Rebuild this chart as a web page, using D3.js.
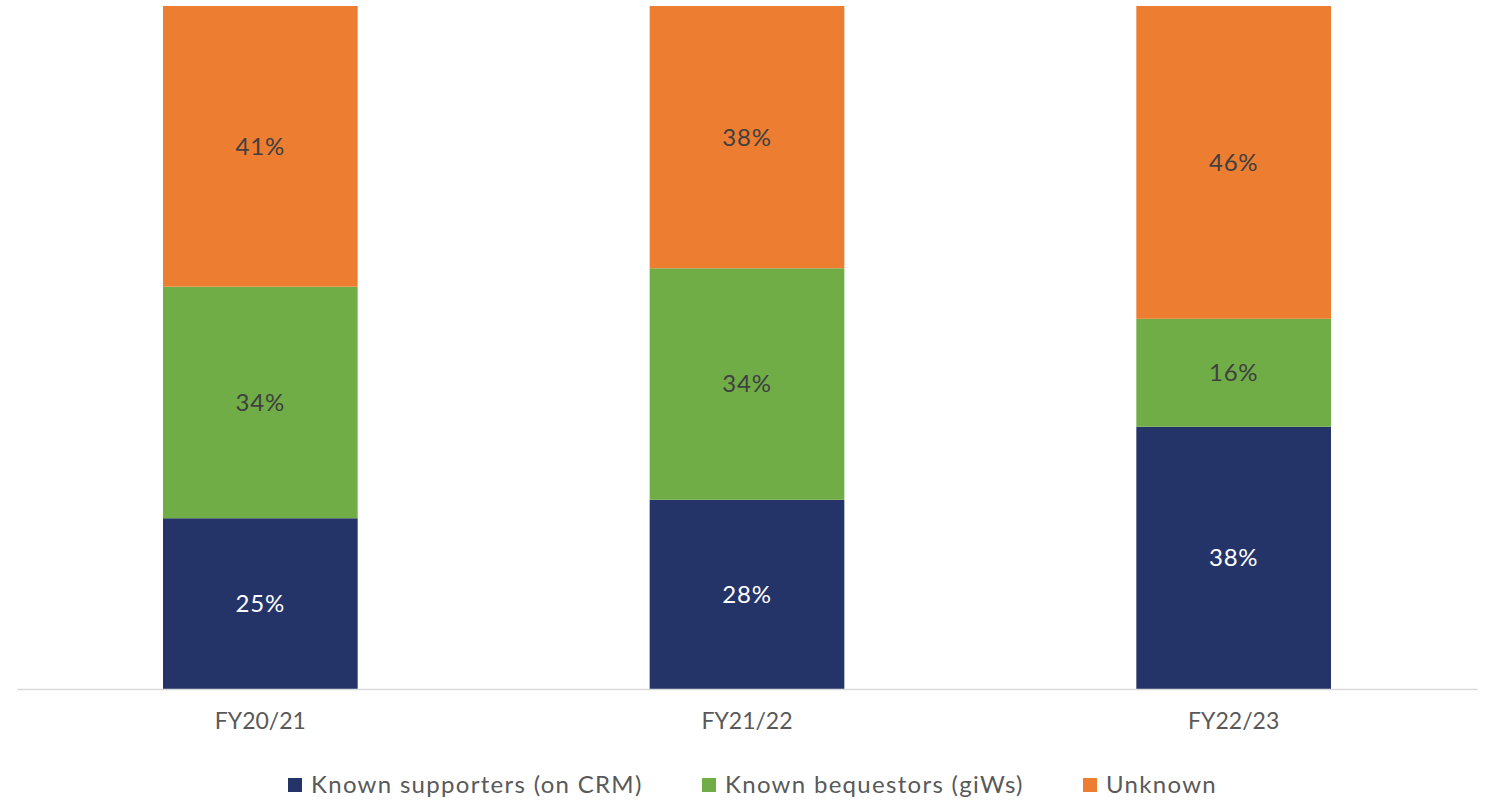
<!DOCTYPE html>
<html>
<head>
<meta charset="utf-8">
<script src="https://cdn.jsdelivr.net/npm/d3@7"></script>
<style>
  body { margin: 0; background: #fff; }
  text { font-family: Lato, "Open Sans", sans-serif; }
</style>
</head>
<body>
<svg id="chart" width="1486" height="801"></svg>
<script>
// data (shares in %, labels shown rounded)
const years = ["FY20/21", "FY21/22", "FY22/23"]
const seriesNames = ["Known supporters (on CRM)", "Known bequestors (giWs)", "Unknown"]
const supporters = [25.0, 27.7, 38.4]
const bequestors = [33.9, 33.9, 15.8]
const unknown = [41.1, 38.4, 45.8]

const colors = ["#243469", "#70AD47", "#ED7D31"]
const labelColors = ["#ffffff", "#404040", "#404040"]

const dimensions = {
  width: 1486,
  height: 801,
  margin: { top: 6, right: 9, bottom: 112, left: 17 },
}
dimensions.boundedWidth = dimensions.width - dimensions.margin.left - dimensions.margin.right
dimensions.boundedHeight = dimensions.height - dimensions.margin.top - dimensions.margin.bottom

const rows = years.map((y, i) => ({ year: y, s0: supporters[i], s1: bequestors[i], s2: unknown[i] }))
const keys = ["s0", "s1", "s2"]
const stacked = d3.stack().keys(keys)(rows)

const svg = d3.select("#chart")
const g = svg.append("g")
  .attr("transform", "translate(" + dimensions.margin.left + "," + dimensions.margin.top + ")")

const x = d3.scaleBand()
  .domain(years)
  .range([0, dimensions.boundedWidth])
  .paddingInner(0.6)
  .paddingOuter(0.3)

const y = d3.scaleLinear()
  .domain([0, 100])
  .range([dimensions.boundedHeight, 0])

// bars
stacked.forEach((layer, li) => {
  g.selectAll(".bar" + li)
    .data(layer)
    .enter().append("rect")
      .attr("x", d => x(d.data.year))
      .attr("y", d => y(d[1]))
      .attr("width", x.bandwidth())
      .attr("height", d => y(d[0]) - y(d[1]))
      .attr("fill", colors[li])

  g.selectAll(".lab" + li)
    .data(layer)
    .enter().append("text")
      .attr("x", d => x(d.data.year) + x.bandwidth() / 2)
      .attr("y", d => (y(d[0]) + y(d[1])) / 2)
      .attr("dy", "0.35em")
      .attr("text-anchor", "middle")
      .attr("font-size", 24)
      .attr("letter-spacing", 0.8)
      .attr("fill", labelColors[li])
      .text(d => Math.round(d[1] - d[0]) + "%")
})

// x axis
const xAxis = g.append("g")
  .attr("transform", "translate(0," + dimensions.boundedHeight + ")")
  .call(d3.axisBottom(x).tickSize(0).tickPadding(24))
xAxis.select(".domain").attr("stroke", "#d9d9d9").attr("stroke-width", 1.5)
xAxis.selectAll("text")
  .attr("font-size", 23)
  .attr("fill", "#595959")
  .style("font-family", "Lato, 'Open Sans', sans-serif")

// legend
const legendX = [288, 702, 1083]
const legend = svg.append("g").attr("transform", "translate(0,785)")
seriesNames.forEach((name, i) => {
  legend.append("rect")
    .attr("x", legendX[i])
    .attr("y", -7)
    .attr("width", 14)
    .attr("height", 14)
    .attr("fill", colors[i])
  legend.append("text")
    .attr("x", legendX[i] + 23)
    .attr("y", 0)
    .attr("dy", "0.35em")
    .attr("font-size", 24)
    .attr("letter-spacing", 1.3)
    .attr("fill", "#595959")
    .text(name)
})
</script>
</body>
</html>
